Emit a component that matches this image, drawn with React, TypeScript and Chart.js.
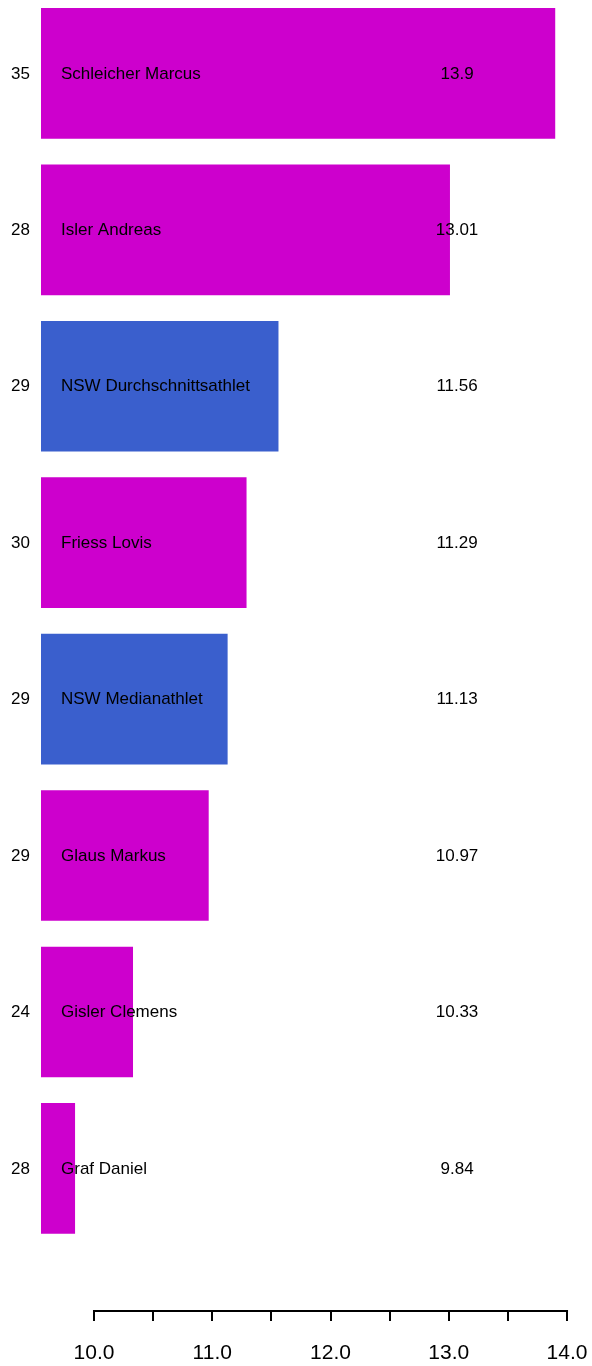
import React, { useEffect, useRef } from "react";
import { Chart, registerables } from "chart.js";

Chart.register(...registerables);

// ---- data ----
const athletes = [
  "Schleicher Marcus",
  "Isler Andreas",
  "NSW Durchschnittsathlet",
  "Friess Lovis",
  "NSW Medianathlet",
  "Glaus Markus",
  "Gisler Clemens",
  "Graf Daniel",
];
const ages = [35, 28, 29, 30, 29, 29, 24, 28];
const scores = [13.9, 13.01, 11.56, 11.29, 11.13, 10.97, 10.33, 9.84];
const isBenchmark = [false, false, true, false, true, false, false, false];
const xTickLabels = [10, 11, 12, 13, 14];
const valueLabelX = 13.07;

const MAGENTA = "#CD00CD";
const BLUE = "#3A5FCD";
const FONT = "'Liberation Sans', Arial, Helvetica, sans-serif";

const W = 592;
const H = 1366;

// y (row index) scale range, rows 1..8 from top
const Y_MIN = 0.5308;
const Y_MAX = 9.2632;
const X_AXIS_AT = 8.9116;

export default function App() {
  const ref = useRef<HTMLCanvasElement | null>(null);

  useEffect(() => {
    document.body.style.margin = "0";
    const canvas = ref.current;
    if (!canvas) return;

    const textPlugin = {
      id: "rtext",
      afterDatasetsDraw(chart: any) {
        const { ctx, chartArea } = chart;
        const xs = chart.scales.x;
        const ys = chart.scales.y;
        ctx.save();
        ctx.fillStyle = "#000";
        ctx.font = `17px ${FONT}`;
        ctx.textBaseline = "middle";
        athletes.forEach((name, i) => {
          const y = ys.getPixelForValue(i + 1) + 0.5;
          ctx.textAlign = "right";
          ctx.fillText(String(ages[i]), chartArea.left - 11, y);
          ctx.textAlign = "left";
          ctx.fillText(name, chartArea.left + 20, y);
          ctx.textAlign = "center";
          ctx.fillText(String(scores[i]), xs.getPixelForValue(valueLabelX), y);
        });
        // axis line from first to last labelled tick
        ctx.strokeStyle = "#000";
        ctx.lineWidth = 2;
        ctx.lineCap = "square";
        ctx.beginPath();
        const yb = Math.round(ys.getPixelForValue(X_AXIS_AT));
        ctx.moveTo(xs.getPixelForValue(xTickLabels[0]), yb);
        ctx.lineTo(xs.getPixelForValue(xTickLabels[xTickLabels.length - 1]), yb);
        ctx.stroke();
        ctx.restore();
      },
    };

    const chart = new Chart(canvas, {
      type: "bar",
      data: {
        datasets: [
          {
            data: scores.map((v, i) => ({ x: v, y: i + 1 })),
            backgroundColor: isBenchmark.map((b) => (b ? BLUE : MAGENTA)),
            borderWidth: 0,
            barPercentage: 0.835,
            categoryPercentage: 1,
          },
        ],
      },
      options: {
        indexAxis: "y",
        responsive: false,
        animation: false,
        devicePixelRatio: 1,
        layout: { padding: { left: 41, right: 0, top: 0, bottom: 0 } },
        plugins: {
          legend: { display: false },
          tooltip: { enabled: false },
          title: { display: false },
        },
        scales: {
          x: {
            type: "linear",
            position: { y: X_AXIS_AT },
            min: 9.552,
            max: 14.211,
            offset: false,
            border: { display: false },
            grid: {
              drawOnChartArea: false,
              drawTicks: true,
              tickLength: 10,
              color: "#000",
              lineWidth: 2,
            },
            ticks: {
              stepSize: 0.5,
              includeBounds: false,
              autoSkip: false,
              maxRotation: 0,
              minRotation: 0,
              padding: 4,
              color: "#000",
              font: { family: FONT, size: 21, lineHeight: 56 / 21 },
              callback: (v: any) => {
                const n = Number(v);
                return xTickLabels.some((t) => Math.abs(t - n) < 1e-9) ? n.toFixed(1) : "";
              },
            },
          },
          y: {
            type: "linear",
            reverse: true,
            min: Y_MIN,
            max: Y_MAX,
            offset: false,
            display: false,
            ticks: { stepSize: 1, includeBounds: false },
            grid: { display: false, offset: false },
          },
        },
      } as any,
      plugins: [textPlugin],
    });

    return () => chart.destroy();
  }, []);

  return (
    <canvas
      ref={ref}
      width={W}
      height={H}
      style={{ display: "block", width: W, height: H }}
    />
  );
}
